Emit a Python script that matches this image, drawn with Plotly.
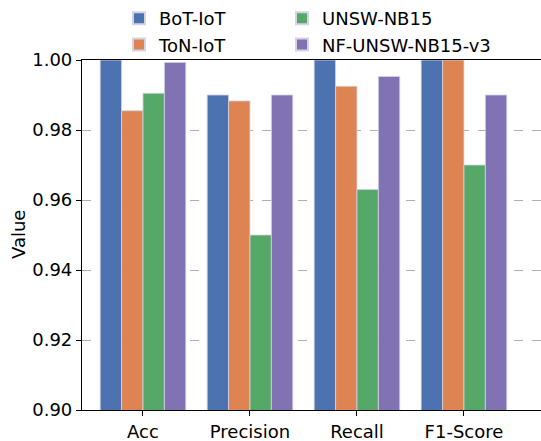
import plotly.graph_objects as go

metrics = ["Acc", "Precision", "Recall", "F1-Score"]
bot_iot = [1.000, 0.990, 1.000, 1.000]
ton_iot = [0.9855, 0.9883, 0.9925, 1.000]
unsw_nb15 = [0.9905, 0.950, 0.963, 0.970]
nf_unsw_v3 = [0.9993, 0.990, 0.9953, 0.990]

series = [
    ("BoT-IoT", bot_iot, "#4C72B0", "legend"),
    ("ToN-IoT", ton_iot, "#DD8452", "legend"),
    ("UNSW-NB15", unsw_nb15, "#55A868", "legend2"),
    ("NF-UNSW-NB15-v3", nf_unsw_v3, "#8172B3", "legend2"),
]
yticks = [0.90, 0.92, 0.94, 0.96, 0.98, 1.00]

fig = go.Figure()
for name, vals, col, lg in series:
    fig.add_trace(go.Bar(
        x=metrics, y=vals, name=name, legend=lg,
        marker=dict(color=col, line=dict(color="#d4d4e6", width=0.8)),
    ))

font = "DejaVu Sans"
leg_common = dict(
    orientation="v", xref="container", yref="container",
    y=1.0, xanchor="left", yanchor="top",
    font=dict(family=font, size=18), itemsizing="constant",
    bgcolor="rgba(0,0,0,0)", tracegroupgap=0,
)
fig.update_layout(
    width=541, height=441,
    margin=dict(l=82, r=0, t=60, b=31, autoexpand=False),
    plot_bgcolor="white", paper_bgcolor="white",
    barmode="group", bargap=0.2, bargroupgap=0,
    font=dict(family=font, size=18, color="black"),
    showlegend=True,
    legend=dict(x=119 / 541, **leg_common),
    legend2=dict(x=282 / 541, **leg_common),
    xaxis=dict(
        range=[-0.57, 3.72], showline=True, linecolor="black", linewidth=1.2,
        mirror=True, ticks="outside", ticklen=5, tickcolor="black",
        showgrid=False, tickfont=dict(size=18),
    ),
    yaxis=dict(
        range=[0.90, 1.00], tickvals=yticks,
        ticktext=[f"{v:.2f}" for v in yticks],
        showline=True, linecolor="black", linewidth=1.2,
        ticks="outside", ticklen=5, tickcolor="black",
        showgrid=True, gridcolor="#b0b0b0", griddash="dash", gridwidth=0.8,
        zeroline=False, tickfont=dict(size=18),
    ),
    annotations=[dict(
        text="Value", xref="paper", yref="paper", x=(18 - 82) / 459, y=0.5,
        xanchor="center", yanchor="middle", textangle=-90, showarrow=False,
        font=dict(family=font, size=18, color="black"),
    )],
)

fig.write_html(
    "out.html",
    config={"displayModeBar": False},
    post_script="document.body.style.margin='0';document.body.style.overflow='hidden';",
)
